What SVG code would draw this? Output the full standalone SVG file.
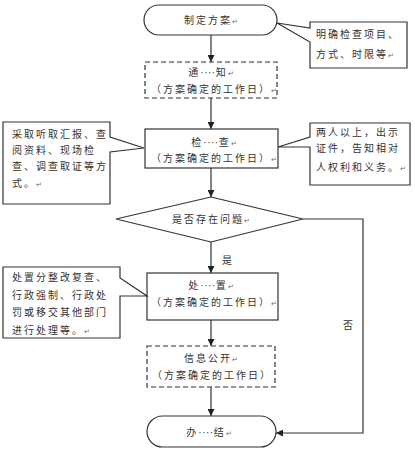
<svg xmlns="http://www.w3.org/2000/svg" width="415" height="463" viewBox="0 0 415 463">
<style>
  .shape { fill: #ffffff; stroke: #333333; stroke-width: 1.2; }
  .dash { stroke-dasharray: 5,3; }
  .conn { fill: none; stroke: #333333; stroke-width: 1.2; }
  text { font-family: "Noto Sans CJK SC", "Noto Sans", sans-serif; font-size: 10px; fill: #333333; letter-spacing: 2px; }
  .c { text-anchor: middle; }
  .pm { font-size: 7px; letter-spacing: 0; fill: #666666; }
  .dots { font-family: "Liberation Sans", sans-serif; letter-spacing: 0.5px; }
</style>
<defs>
  <marker id="arrow" viewBox="0 0 10 10" refX="10" refY="5" markerWidth="7" markerHeight="7" orient="auto" markerUnits="userSpaceOnUse">
    <path d="M0,0 L10,5 L0,10 Z" fill="#222222"/>
  </marker>
</defs>
<rect width="415" height="463" fill="#ffffff"/>

<g id="connectors">
  <line class="conn" x1="211" y1="35" x2="211" y2="62" marker-end="url(#arrow)"/>
  <line class="conn" x1="211" y1="98" x2="211" y2="129" marker-end="url(#arrow)"/>
  <line class="conn" x1="211" y1="168" x2="211" y2="197" marker-end="url(#arrow)"/>
  <line class="conn" x1="211" y1="242" x2="211" y2="273" marker-end="url(#arrow)"/>
  <line class="conn" x1="211" y1="320" x2="211" y2="346" marker-end="url(#arrow)"/>
  <line class="conn" x1="211" y1="387" x2="211" y2="416" marker-end="url(#arrow)"/>
  <polyline class="conn" points="303,219 363,219 363,433 276,433" marker-end="url(#arrow)"/>
  <text x="228" y="264" class="c">是</text>
  <text x="349" y="329" class="c">否</text>
</g>

<g id="node-start">
  <rect class="shape" x="144" y="5" width="133" height="30" rx="15" ry="15"/>
  <text x="211" y="24" class="c">制定方案<tspan class="pm">↵</tspan></text>
</g>

<g id="callout-start">
  <path class="shape" d="M310,22 H407 V68 H310 V42 L277,23 L310,28 Z"/>
  <text x="316" y="38">明确检查项目、</text>
  <text x="316" y="58">方式、时限等<tspan class="pm">↵</tspan></text>
</g>

<g id="node-notify">
  <rect class="shape dash" x="145" y="62" width="132" height="36"/>
  <text x="211" y="76" class="c">通<tspan class="dots">····</tspan>知<tspan class="pm">↵</tspan></text>
  <text x="214" y="93" class="c">（方案确定的工作日）<tspan class="pm">↵</tspan></text>
</g>

<g id="node-inspect">
  <rect class="shape" x="145" y="129" width="133" height="39"/>
  <text x="214" y="146" class="c">检<tspan class="dots">····</tspan>查<tspan class="pm">↵</tspan></text>
  <text x="214" y="162" class="c">（方案确定的工作日）<tspan class="pm">↵</tspan></text>
</g>

<g id="callout-inspect-left">
  <path class="shape" d="M3,122 H110 V137 L144,148 L110,152 V204 H3 Z"/>
  <text x="12" y="138">采取听取汇报、查</text>
  <text x="12" y="154">阅资料、现场检</text>
  <text x="12" y="170">查、调查取证等方</text>
  <text x="12" y="187">式。<tspan class="pm">↵</tspan></text>
</g>

<g id="callout-inspect-right">
  <path class="shape" d="M310,123 H410 V185 H310 V147 L278,147 L310,137 Z"/>
  <text x="316" y="136">两人以上，出示</text>
  <text x="316" y="152">证件，告知相对</text>
  <text x="316" y="171">人权利和义务。<tspan class="pm">↵</tspan></text>
</g>

<g id="node-decision">
  <polygon class="shape" points="211,197 303,219 211,242 116,219"/>
  <text x="211" y="223" class="c">是否存在问题<tspan class="pm">↵</tspan></text>
</g>

<g id="node-handle">
  <rect class="shape" x="147" y="273" width="131" height="47"/>
  <text x="211" y="289" class="c">处<tspan class="dots">····</tspan>置<tspan class="pm">↵</tspan></text>
  <text x="214" y="306" class="c">（方案确定的工作日）<tspan class="pm">↵</tspan></text>
</g>

<g id="callout-handle">
  <path class="shape" d="M3,267 H120 V278 L147,296 L120,296 V338 H3 Z"/>
  <text x="12" y="281">处置分整改复查、</text>
  <text x="12" y="299">行政强制、行政处</text>
  <text x="12" y="316">罚或移交其他部门</text>
  <text x="12" y="334">进行处理等。<tspan class="pm">↵</tspan></text>
</g>

<g id="node-publish">
  <rect class="shape dash" x="147" y="346" width="128" height="41"/>
  <text x="211" y="362" class="c">信息公开<tspan class="pm">↵</tspan></text>
  <text x="212" y="379" class="c">（方案确定的工作日）</text>
</g>

<g id="node-end">
  <rect class="shape" x="147" y="416" width="129" height="31" rx="15.5" ry="15.5"/>
  <text x="209" y="436" class="c">办<tspan class="dots">····</tspan>结<tspan class="pm">↵</tspan></text>
</g>
</svg>
